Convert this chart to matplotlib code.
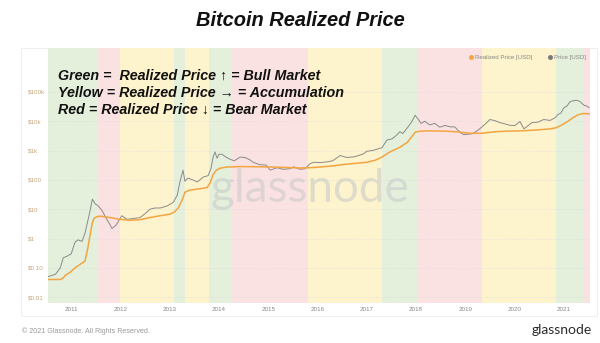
import matplotlib
matplotlib.use('Agg')
import matplotlib.pyplot as plt
from matplotlib.patches import Rectangle
import numpy as np
import pandas as pd

plt.rcParams['font.family'] = ['Liberation Sans', 'DejaVu Sans']

# price (grey line)
price_dates = ['2010-07-13', '2010-09-06', '2010-10-12', '2010-11-03', '2010-12-02', '2011-01-01',
               '2011-01-30', '2011-02-21', '2011-03-22', '2011-04-13', '2011-05-16', '2011-06-07',
               '2011-06-29', '2011-07-20', '2011-08-18', '2011-09-16', '2011-10-15', '2011-10-30',
               '2011-11-28', '2012-01-11', '2012-02-20', '2012-04-05', '2012-05-26', '2012-07-01',
               '2012-08-07', '2012-09-13', '2012-10-23', '2012-12-13', '2013-01-26', '2013-02-25',
               '2013-03-18', '2013-04-09', '2013-04-23', '2013-05-15', '2013-06-21', '2013-07-24',
               '2013-09-06', '2013-10-12', '2013-11-03', '2013-11-18', '2013-12-02', '2013-12-17',
               '2014-01-01', '2014-01-23', '2014-02-21', '2014-03-26', '2014-04-24', '2014-06-07',
               '2014-07-13', '2014-08-19', '2014-09-10', '2014-10-31', '2014-12-17', '2015-01-15',
               '2015-03-08', '2015-04-20', '2015-06-10', '2015-07-09', '2015-08-25', '2015-10-01',
               '2015-11-07', '2015-12-06', '2016-01-19', '2016-03-10', '2016-04-23', '2016-06-17',
               '2016-08-07', '2016-10-05', '2016-12-03', '2017-01-01', '2017-02-10', '2017-03-26',
               '2017-04-23', '2017-05-30', '2017-07-05', '2017-08-04', '2017-09-03', '2017-09-24',
               '2017-11-03', '2017-12-02', '2017-12-24', '2018-01-15', '2018-02-06', '2018-03-07',
               '2018-04-12', '2018-05-19', '2018-06-25', '2018-08-04', '2018-09-09', '2018-10-15',
               '2018-11-06', '2018-11-28', '2018-12-20', '2019-01-19', '2019-02-25', '2019-04-06',
               '2019-05-05', '2019-06-03', '2019-07-02', '2019-08-08', '2019-09-13', '2019-10-19',
               '2019-11-25', '2020-01-04', '2020-02-10', '2020-03-10', '2020-04-08', '2020-05-08',
               '2020-06-21', '2020-08-04', '2020-09-20', '2020-10-26', '2020-11-17', '2020-12-09',
               '2021-01-01', '2021-01-23', '2021-02-14', '2021-03-08', '2021-04-06', '2021-04-28',
               '2021-05-16', '2021-05-31', '2021-06-21', '2021-07-06']
price = [0.05, 0.06, 0.10, 0.22, 0.25, 0.30,
         0.76, 0.9, 0.8, 1.5, 7, 22,
         15, 13, 9, 5, 3, 2.2,
         2.8, 6, 4.5, 4.8, 5.2, 7,
         10, 11, 11, 13, 17, 30,
         90, 214, 90, 115, 100, 85,
         125, 140, 250, 600, 900, 550,
         750, 750, 600, 500, 450, 600,
         580, 480, 400, 330, 320, 215,
         260, 230, 240, 280, 230, 240,
         360, 400, 390, 410, 450, 680,
         580, 620, 760, 950, 1000, 1150,
         1250, 2300, 2500, 3200, 4400, 3800,
         6500, 10000, 16000, 12000, 8500, 10000,
         7500, 8500, 6300, 7200, 6500, 6400,
         5000, 4000, 3500, 3600, 3800, 5000,
         6500, 8500, 11500, 10500, 9000, 8200,
         7300, 7200, 9800, 5500, 7000, 9000,
         9300, 11500, 10700, 13000, 17000, 19000,
         29000, 33000, 46000, 50000, 52000, 48000,
         40000, 35000, 33000, 29000]

# realized price (orange line)
realized_dates = ['2010-07-13', '2010-10-12', '2010-11-03', '2010-11-17', '2010-12-24', '2011-01-30',
                  '2011-03-07', '2011-04-13', '2011-05-05', '2011-05-23', '2011-06-07', '2011-06-21',
                  '2011-07-13', '2011-08-04', '2011-10-15', '2011-12-28', '2012-03-13', '2012-05-26',
                  '2012-08-07', '2012-10-23', '2013-01-04', '2013-02-03', '2013-03-04', '2013-04-02',
                  '2013-04-23', '2013-05-30', '2013-08-15', '2013-10-05', '2013-10-27', '2013-11-18',
                  '2013-12-10', '2014-01-08', '2014-02-28', '2014-06-07', '2014-10-31', '2015-03-29',
                  '2015-08-25', '2015-11-07', '2016-01-19', '2016-04-23', '2016-07-23', '2016-10-19',
                  '2017-01-01', '2017-03-04', '2017-04-23', '2017-06-21', '2017-09-03', '2017-10-27',
                  '2017-11-25', '2017-12-24', '2018-01-30', '2018-04-12', '2018-08-04', '2018-11-21',
                  '2019-02-03', '2019-05-05', '2019-08-08', '2019-11-03', '2020-02-10', '2020-05-30',
                  '2020-09-20', '2020-11-03', '2020-12-17', '2021-01-23', '2021-03-01', '2021-04-13',
                  '2021-05-23', '2021-07-13']
realized = [0.04, 0.04, 0.045, 0.055, 0.07, 0.10,
            0.13, 0.17, 0.5, 1.5, 3.5, 5.0,
            5.6, 5.8, 5.2, 4.5, 4.2, 4.4,
            5.2, 6.0, 6.8, 8, 11, 20,
            38, 45, 50, 55, 80, 150,
            210, 250, 275, 285, 280, 270,
            255, 260, 275, 300, 340, 370,
            400, 470, 600, 900, 1300, 1900,
            2800, 4200, 4600, 4700, 4600, 4300,
            3900, 3900, 4400, 4600, 4700, 5000,
            5500, 6000, 7500, 9500, 12500, 16500,
            18500, 18000]

# market phases
phase_starts = ['2010-07-13', '2011-07-16', '2011-12-28', '2013-02-03', '2013-04-23', '2013-10-19',
                '2014-04-08', '2015-10-23', '2017-04-23', '2018-01-08', '2019-05-05', '2020-11-03',
                '2021-05-22']
phase_end = '2021-07-13'
phases = ['bull', 'bear', 'acc', 'bull', 'acc', 'bull', 'bear', 'acc', 'bull', 'bear', 'acc', 'bull', 'bear']

y_ticks = [0.01, 0.1, 1, 10, 100, 1000, 10000, 100000]
y_labels = ['$0.01', '$0.10', '$1', '$10', '$100', '$1k', '$10k', '$100k']
years = list(range(2011, 2022))

phase_colors = {'bull': '#e4f0dc', 'bear': '#fbe2e2', 'acc': '#fdf3cd'}

fig = plt.figure(figsize=(6, 3.43), dpi=100)
W, H = 600., 343.

# white card behind the chart
fig.patches.append(Rectangle((21 / W, 1 - 316 / H), (597 - 21) / W, (316 - 48) / H,
                             transform=fig.transFigure, facecolor='white',
                             edgecolor='#ececec', lw=0.6, zorder=-5))

ax = fig.add_axes([48 / W, 1 - 303 / H, (590 - 48) / W, (303 - 48) / H])
ax.set_facecolor('none')

starts = pd.to_datetime(phase_starts)
ends = list(starts[1:]) + [pd.to_datetime(phase_end)]
for s, e, p in zip(starts, ends, phases):
    ax.axvspan(s, e, color=phase_colors[p], lw=0, zorder=0)

for v in y_ticks:
    ax.axhline(v, color='#d8d8d8', lw=0.4, ls=(0, (1, 1.5)), zorder=1)

ax.plot(pd.to_datetime(price_dates), price, color='#8a8a8a', lw=0.7, zorder=3)
ax.plot(pd.to_datetime(realized_dates), realized, color='#f2a541', lw=1.1, zorder=4)

ax.set_yscale('log')
ax.set_ylim(10 ** -2.2, 10 ** 6.5)
ax.set_xlim(pd.to_datetime('2010-07-13'), pd.to_datetime(phase_end))
ax.set_yticks(y_ticks)
ax.set_yticklabels(y_labels)
ax.yaxis.set_minor_locator(matplotlib.ticker.NullLocator())
ax.set_xticks(pd.to_datetime([f'{y}-01-01' for y in years]))
ax.set_xticklabels([str(y) for y in years])
ax.tick_params(axis='y', length=0, pad=14.4, labelsize=4.5, labelcolor='#c9a67a')
for t in ax.get_yticklabels():
    t.set_horizontalalignment('left')
ax.tick_params(axis='x', length=0, pad=3, labelsize=4.5, labelcolor='#888888')
for s in ax.spines.values():
    s.set_visible(False)

# watermark
ax.text(0.483, 0.449, 'glassnode', transform=ax.transAxes, ha='center', va='center',
        fontsize=33, color='#c8c8c8', alpha=0.55, family=['Lato', 'DejaVu Sans'], zorder=2)

# legend
ax.plot([0.780], [0.964], 'o', transform=ax.transAxes, ms=2.5, color='#f2a541', clip_on=False)
ax.text(0.787, 0.964, 'Realized Price [USD]', transform=ax.transAxes, va='center',
        fontsize=4.4, color='#888888')
ax.plot([0.926], [0.964], 'o', transform=ax.transAxes, ms=2.5, color='#777777', clip_on=False)
ax.text(0.933, 0.964, 'Price [USD]', transform=ax.transAxes, va='center',
        fontsize=4.4, color='#888888')

# annotation
notes = ['Green =  Realized Price \u2191 = Bull Market',
         'Yellow = Realized Price \u2192 = Accumulation',
         'Red = Realized Price \u2193 = Bear Market']
for i, line in enumerate(notes):
    fig.text(58 / W, 1 - (76 + 17 * i) / H, line, ha='left', va='center', fontsize=10.3,
             fontweight='bold', fontstyle='italic', color='#111111')

fig.text(0.5, 1 - 20 / H, 'Bitcoin Realized Price', ha='center', va='center', fontsize=14.4,
         fontweight='bold', fontstyle='italic', color='#111111')
fig.text(22 / W, 1 - 331 / H, '\u00a9 2021 Glassnode. All Rights Reserved.', ha='left',
         va='center', fontsize=5.1, color='#999999')
fig.text(592 / W, 1 - 330 / H, 'glassnode', ha='right', va='center', fontsize=10,
         color='#2a2a2a', family=['Lato', 'DejaVu Sans'])

fig.savefig('out.png', dpi=100)
